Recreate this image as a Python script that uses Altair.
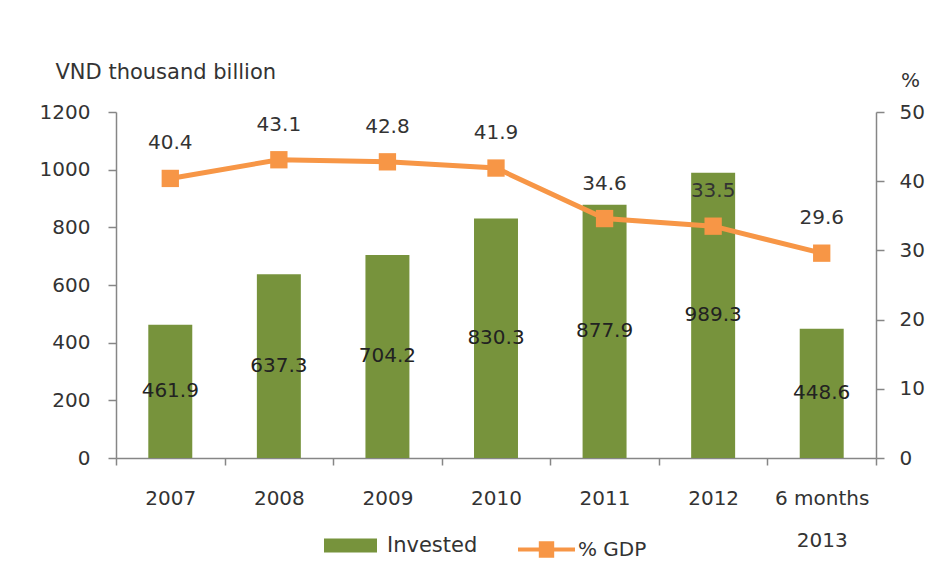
import altair as alt
import pandas as pd

categories = ["2007", "2008", "2009", "2010", "2011", "2012", "6 months|2013"]
invested = [461.9, 637.3, 704.2, 830.3, 877.9, 989.3, 448.6]
gdp_pct = [40.4, 43.1, 42.8, 41.9, 34.6, 33.5, 29.6]
left_ticks = [0, 200, 400, 600, 800, 1000, 1200]
right_ticks = [0, 10, 20, 30, 40, 50]

GREEN = "#77933C"
ORANGE = "#F79646"
FONT = "DejaVu Sans"
TXT = "#333333"
AX = "#868686"

df = pd.DataFrame({"cat": categories, "invested": invested, "gdp": gdp_pct})
base = alt.Chart(df)

x = alt.X("cat:N", sort=categories, title=None,
          scale=alt.Scale(paddingInner=0, paddingOuter=0),
          axis=alt.Axis(labelExpr="split(datum.label, '|')", labelAngle=0,
                        labelBaseline="middle", labelLineHeight=42, labelPadding=33,
                        tickBand="extent", tickSize=7, labelFontSize=20))

yl_scale = alt.Scale(domain=[0, 1200], nice=False)
yl_axis = alt.Axis(orient="left", values=left_ticks, format="d",
                   grid=False, tickSize=8, labelPadding=18, labelFontSize=20,
                   titleAngle=0, titleAlign="left", titleBaseline="middle",
                   titleX=-61, titleY=-40, titleFontSize=21, titleFontWeight="normal")
YL_TITLE = "VND thousand billion"

bars = base.mark_bar(width=alt.RelativeBandSize(0.405)).transform_calculate(
    series="'Invested'").encode(
    x=x,
    y=alt.Y("invested:Q", scale=yl_scale, title=YL_TITLE, axis=yl_axis),
    fill=alt.Fill("series:N", scale=alt.Scale(domain=["Invested"], range=[GREEN]),
                  legend=alt.Legend(title=None, orient="none", legendX=208, legendY=407,
                                    symbolType="M-1,-0.26H1V0.26H-1Z", symbolSize=2809,
                                    symbolStrokeWidth=0, labelOffset=10, labelFontSize=21)),
)
bar_labels = base.mark_text(fontSize=20, color="#222222", font=FONT).transform_calculate(
    mid="datum.invested / 2").encode(
    x=alt.X("cat:N", sort=categories, title=None),
    y=alt.Y("mid:Q", scale=yl_scale, title=YL_TITLE, axis=yl_axis),
    text=alt.Text("invested:Q", format=".1f"),
)
left = alt.layer(bars, bar_labels)

yr_scale = alt.Scale(domain=[0, 50], nice=False)
yr_axis = alt.Axis(orient="right", values=right_ticks, grid=False,
                   tickSize=8, labelPadding=15, labelFontSize=20,
                   titleAngle=0, titleAlign="center", titleBaseline="middle",
                   titleX=34, titleY=-32, titleFontSize=20, titleFontWeight="normal")
line = base.mark_line(strokeWidth=5).transform_calculate(series="'% GDP'").encode(
    x=alt.X("cat:N", sort=categories, title=None),
    y=alt.Y("gdp:Q", scale=yr_scale, title="%", axis=yr_axis),
    stroke=alt.Stroke("series:N", scale=alt.Scale(domain=["% GDP"], range=[ORANGE]),
                      legend=alt.Legend(title=None, orient="none", legendX=400, legendY=407,
                                        symbolType="M-1,0H1M-0.2,-0.22H0.2V0.22H-0.2Z",
                                        symbolSize=3249, symbolStrokeWidth=4,
                                        symbolFillColor=ORANGE, labelOffset=1,
                                        labelFontSize=20)),
)
points = base.mark_point(shape="square", filled=True, size=300, opacity=1, color=ORANGE).encode(
    x=alt.X("cat:N", sort=categories, title=None),
    y=alt.Y("gdp:Q", scale=yr_scale, title="%", axis=yr_axis),
)
line_labels = base.mark_text(fontSize=20, color=TXT, dy=-35, font=FONT).encode(
    x=alt.X("cat:N", sort=categories, title=None),
    y=alt.Y("gdp:Q", scale=yr_scale, title="%", axis=yr_axis),
    text=alt.Text("gdp:Q", format=".1f"),
)
right = alt.layer(line, points, line_labels)

chart = alt.layer(left, right).resolve_scale(y="independent", fill="independent",
                                             stroke="independent").properties(
    width=760, height=346,
    autosize=alt.AutoSizeParams(type="none"),
    padding={"left": 108, "top": 104, "right": 57, "bottom": 114},
    background="white",
).configure_view(stroke=None).configure_axis(
    domainColor=AX, tickColor=AX, labelColor=TXT, titleColor=TXT,
    labelFont=FONT, titleFont=FONT, domainWidth=1.5, tickWidth=1.5,
).configure_legend(labelFont=FONT, labelColor=TXT)

chart.save("out.html", embed_options={"renderer": "svg", "actions": False})
